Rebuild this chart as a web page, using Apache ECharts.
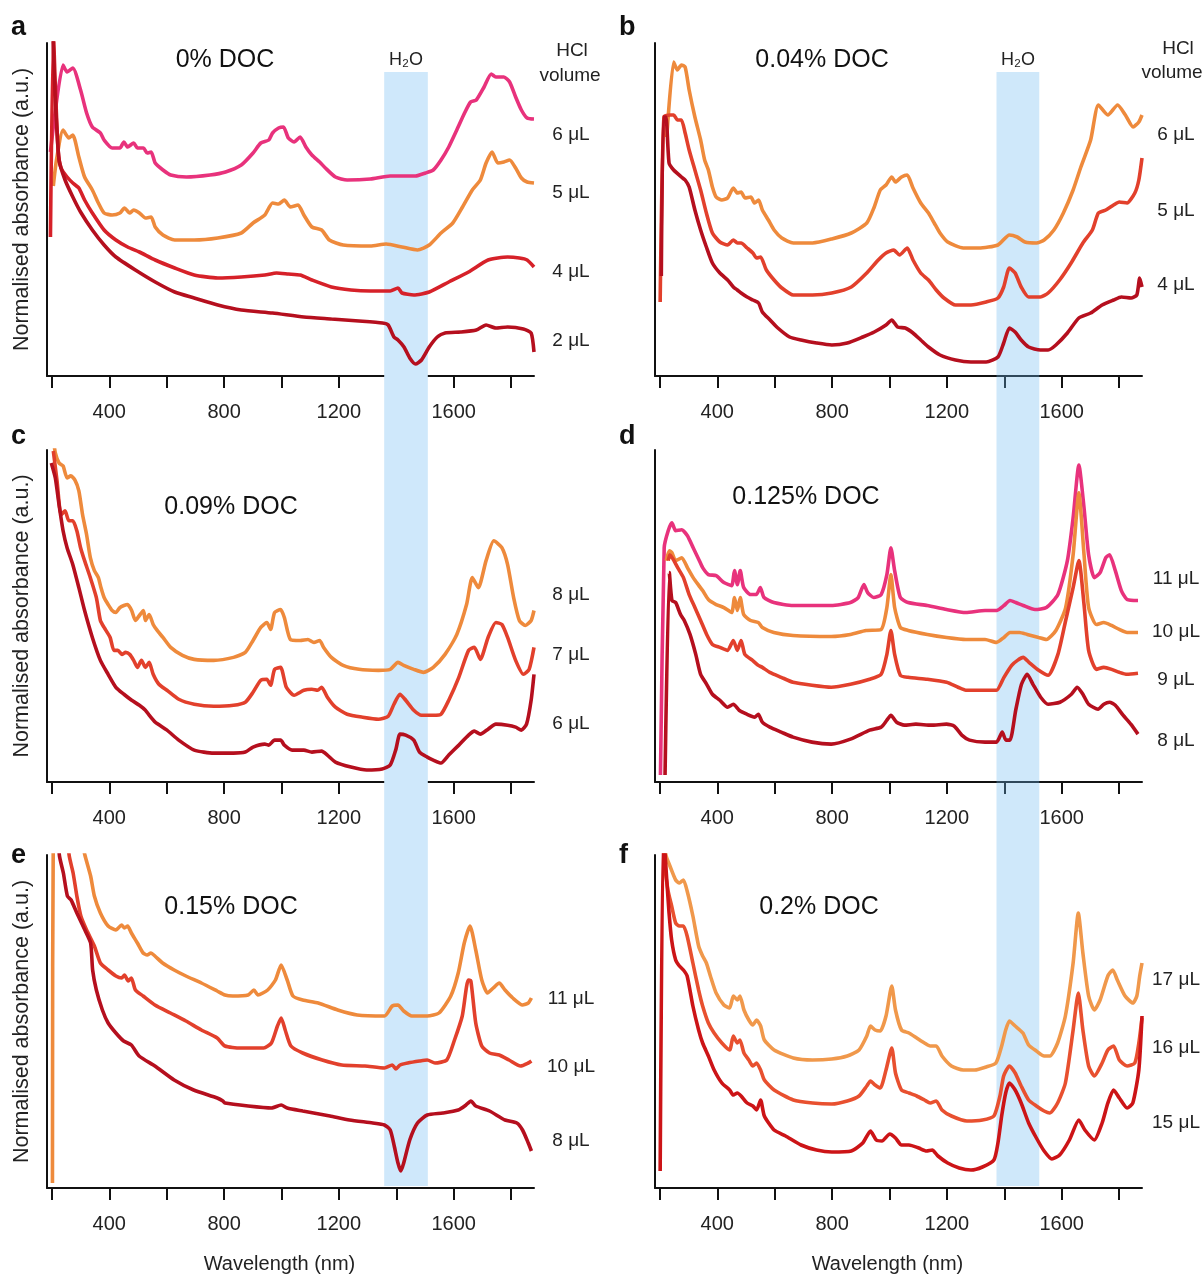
<!DOCTYPE html>
<html><head><meta charset="utf-8">
<script src="https://cdn.jsdelivr.net/npm/echarts@6/dist/echarts.min.js"></script>
<style>html,body{margin:0;padding:0;background:#fff}#chart{width:1204px;height:1274px}</style>
</head><body><div id="chart"></div>
<script>
// ---------------- DATA (wavelength nm, normalised absorbance a.u.) ----------------
const WL_MIN = 183, WL_MAX = 1880;
const TICK_VALUES = [200,400,600,800,1000,1200,1400,1600,1800];
const LABEL_VALUES = [400,800,1200,1600];
const H2O_BAND_LEFT = [1358,1510];
const H2O_BAND_RIGHT = [1373,1522];

const docTitles = ['0% DOC','0.04% DOC','0.09% DOC','0.125% DOC','0.15% DOC','0.2% DOC'];
const panelLetters = ['a','b','c','d','e','f'];
const labelsA = ['6 μL','5 μL','4 μL','2 μL'];
const labelsB = ['6 μL','5 μL','4 μL'];
const labelsC = ['8 μL','7 μL','6 μL'];
const labelsD = ['11 μL','10 μL','9 μL','8 μL'];
const labelsE = ['11 μL','10 μL','8 μL'];
const labelsF = ['17 μL','16 μL','15 μL'];

const a_6uL = [[195,224],[239,311],[253,304],[273,308],[300,286],[321,263],[341,249],[369,243],[382,236],[410,228],[437,228],[451,234],[464,229],[485,233],[498,228],[519,228],[532,223],[546,224],[560,213],[587,206],[614,201],[669,199],[751,201],[805,204],[860,211],[901,223],[928,233],[956,236],[969,243],[990,248],[1007,249],[1024,238],[1044,234],[1065,239],[1085,229],[1106,221],[1133,214],[1153,208],[1188,199],[1229,196],[1310,197],[1379,200],[1467,200],[1502,203],[1529,206],[1556,216],[1583,229],[1611,246],[1638,263],[1659,274],[1679,276],[1706,289],[1731,302],[1747,299],[1775,299],[1795,294],[1816,279],[1836,266],[1856,258],[1880,257]];
const a_5uL = [[205,190],[216,216],[239,246],[259,238],[273,241],[294,219],[314,199],[341,186],[362,173],[382,163],[410,161],[437,163],[453,168],[471,163],[485,166],[505,163],[526,158],[546,159],[560,149],[587,141],[628,136],[696,136],[778,138],[860,143],[901,153],[942,161],[969,173],[990,172],[1010,176],[1031,169],[1058,171],[1078,161],[1106,149],[1140,146],[1167,136],[1215,131],[1310,130],[1365,132],[1420,129],[1474,126],[1515,131],[1556,143],[1597,153],[1631,169],[1665,186],[1693,196],[1713,213],[1734,224],[1754,213],[1775,214],[1795,216],[1816,208],[1836,198],[1856,194],[1880,193]];
const a_4uL = [[195,139],[205,345],[212,290],[222,225],[232,208],[253,199],[273,193],[294,188],[314,176],[341,163],[382,146],[423,136],[464,129],[505,124],[560,116],[628,108],[696,101],[778,98],[860,99],[942,101],[983,103],[1024,102],[1065,101],[1106,96],[1174,89],[1242,86],[1310,85],[1379,85],[1406,88],[1420,83],[1461,81],[1515,84],[1583,94],[1652,104],[1720,116],[1788,119],[1829,118],[1856,116],[1880,109]];
const a_2uL = [[203,345],[212,276],[225,216],[246,196],[273,179],[300,164],[341,146],[382,131],[423,119],[491,106],[560,94],[628,84],[696,78],[778,71],[860,66],[969,63],[1078,59],[1174,57],[1270,55],[1352,53],[1372,51],[1392,39],[1406,36],[1427,29],[1447,18],[1467,12],[1488,16],[1515,29],[1543,39],[1570,43],[1624,44],[1679,46],[1713,51],[1747,48],[1788,49],[1843,47],[1870,43],[1880,24]];

const b_6uL = [[224,239],[248,314],[261,306],[275,311],[288,309],[302,286],[322,259],[342,236],[356,216],[369,206],[383,189],[396,179],[416,176],[436,178],[456,188],[470,183],[483,184],[497,178],[517,179],[530,173],[544,176],[557,166],[578,156],[598,146],[625,138],[665,133],[732,133],[799,137],[867,143],[921,153],[947,169],[968,186],[988,191],[1008,199],[1021,194],[1042,199],[1062,201],[1082,188],[1109,173],[1136,163],[1156,153],[1176,143],[1203,134],[1257,128],[1311,128],[1378,131],[1418,141],[1445,139],[1472,134],[1512,133],[1539,136],[1573,146],[1606,163],[1640,186],[1667,209],[1701,236],[1728,271],[1761,261],[1795,271],[1822,261],[1849,249],[1869,254],[1880,261]];
const b_5uL = [[201,74],[214,259],[235,261],[248,261],[261,256],[275,256],[288,243],[302,226],[322,206],[342,186],[362,163],[383,143],[409,134],[436,131],[456,136],[470,133],[483,133],[504,128],[524,123],[537,118],[551,119],[571,106],[598,96],[625,88],[665,81],[732,81],[799,83],[867,89],[921,103],[961,116],[988,123],[1015,126],[1035,121],[1062,128],[1082,116],[1109,103],[1136,96],[1163,86],[1190,78],[1230,71],[1284,71],[1337,74],[1378,78],[1398,89],[1418,108],[1438,103],[1459,89],[1485,79],[1526,79],[1553,83],[1593,96],[1633,113],[1674,133],[1707,146],[1728,163],[1754,166],[1781,171],[1801,174],[1828,173],[1855,183],[1869,196],[1880,218]];
const b_4uL = [[205,100],[212,259],[221,259],[232,213],[248,206],[275,199],[288,196],[302,189],[322,166],[342,146],[362,129],[383,113],[409,103],[436,96],[456,89],[470,86],[483,83],[504,79],[524,76],[544,73],[557,64],[584,56],[611,48],[652,39],[692,36],[746,33],[799,31],[853,33],[907,39],[947,44],[988,51],[1008,56],[1028,49],[1055,48],[1082,43],[1109,36],[1136,29],[1176,21],[1230,16],[1284,14],[1337,14],[1378,19],[1398,33],[1418,48],[1438,44],[1459,36],[1485,29],[1526,26],[1553,26],[1580,31],[1620,43],[1660,58],[1701,63],[1741,71],[1781,76],[1808,79],[1842,78],[1862,81],[1872,98],[1880,89]];

const c_8uL = [[205,345],[212,330],[225,320],[239,317],[253,305],[266,307],[280,303],[294,292],[307,268],[321,248],[334,225],[348,212],[362,205],[371,195],[382,185],[396,178],[410,172],[423,170],[437,175],[451,177],[464,178],[478,172],[491,162],[505,167],[519,172],[526,162],[539,168],[553,158],[567,152],[587,145],[614,135],[655,127],[696,123],[764,122],[833,125],[874,130],[901,142],[928,155],[949,160],[962,153],[976,170],[997,173],[1010,165],[1031,143],[1065,142],[1092,143],[1113,140],[1133,142],[1147,135],[1174,125],[1215,117],[1270,113],[1338,112],[1379,113],[1406,120],[1426,117],[1461,113],[1495,110],[1529,115],[1570,128],[1611,148],[1645,178],[1665,205],[1686,195],[1713,222],[1740,242],[1768,235],[1788,218],[1809,185],[1829,162],[1850,157],[1870,162],[1880,172]];
const c_7uL = [[205,332],[218,302],[232,268],[246,272],[259,262],[273,262],[287,252],[300,235],[314,222],[334,205],[355,185],[369,162],[382,155],[403,145],[416,132],[430,132],[444,128],[457,130],[471,128],[485,122],[498,115],[512,122],[526,115],[539,120],[553,108],[573,98],[601,92],[642,83],[696,78],[764,76],[833,77],[874,80],[901,90],[928,102],[949,103],[962,97],[976,113],[997,115],[1017,95],[1044,87],[1078,92],[1106,93],[1126,92],[1140,95],[1160,85],[1188,75],[1229,68],[1283,65],[1338,63],[1372,66],[1392,78],[1413,88],[1433,82],[1461,72],[1488,67],[1529,67],[1556,68],[1583,82],[1618,105],[1652,132],[1672,135],[1693,123],[1720,145],[1747,160],[1768,158],[1788,145],[1816,122],[1843,108],[1863,113],[1880,135]];
const c_6uL = [[198,320],[212,305],[225,278],[239,252],[253,235],[273,218],[294,195],[314,172],[341,145],[369,122],[396,108],[423,95],[451,88],[478,82],[505,77],[526,72],[539,67],[560,60],[601,52],[642,42],[696,32],[764,29],[833,29],[874,30],[901,35],[942,38],[956,37],[976,42],[997,42],[1010,37],[1037,32],[1078,32],[1106,30],[1140,31],[1160,27],[1188,20],[1242,15],[1297,12],[1351,13],[1379,17],[1399,33],[1413,48],[1433,47],[1461,42],[1481,30],[1508,25],[1529,22],[1556,19],[1583,27],[1618,37],[1652,47],[1672,51],[1693,48],[1720,53],[1747,58],[1788,57],[1816,55],[1836,52],[1854,58],[1870,82],[1880,108]];

const d_11uL = [[202,7],[215,235],[229,252],[242,260],[255,252],[276,253],[296,247],[316,235],[336,223],[349,215],[369,208],[396,207],[423,200],[450,197],[460,212],[470,198],[480,212],[492,195],[516,188],[536,188],[550,195],[563,185],[597,180],[664,177],[797,177],[864,180],[891,185],[911,198],[924,190],[945,185],[971,188],[991,208],[1005,235],[1018,212],[1038,185],[1065,180],[1132,177],[1199,173],[1266,170],[1333,172],[1373,172],[1399,177],[1420,182],[1440,180],[1466,177],[1507,173],[1547,175],[1587,188],[1620,222],[1640,265],[1660,318],[1678,275],[1694,228],[1714,205],[1734,210],[1754,225],[1767,228],[1787,212],[1808,192],[1828,183],[1866,182]];
const d_10uL = [[222,222],[233,232],[242,230],[255,222],[276,225],[296,215],[316,205],[336,197],[349,192],[369,183],[396,178],[423,175],[450,170],[460,185],[470,172],[480,185],[492,168],[516,162],[543,160],[557,155],[597,150],[664,147],[797,146],[864,148],[918,152],[971,153],[991,175],[1005,208],[1018,175],[1038,155],[1065,152],[1132,148],[1199,145],[1266,143],[1333,143],[1373,140],[1399,145],[1420,150],[1453,150],[1480,148],[1520,145],[1547,143],[1580,152],[1614,175],[1640,228],[1660,290],[1678,228],[1694,175],[1721,158],[1747,160],[1774,157],[1801,153],[1828,150],[1866,150]];
const d_9uL = [[229,222],[235,228],[249,222],[262,215],[282,205],[302,188],[322,175],[342,162],[363,148],[383,138],[409,135],[436,132],[456,142],[470,132],[483,142],[496,128],[523,122],[543,117],[557,115],[583,110],[623,105],[664,100],[730,97],[797,95],[864,98],[931,103],[971,108],[991,128],[1005,152],[1018,128],[1038,107],[1065,105],[1132,103],[1199,100],[1239,95],[1266,92],[1333,92],[1373,92],[1399,105],[1426,117],[1446,122],[1466,125],[1486,120],[1520,112],[1553,107],[1587,128],[1614,162],[1640,195],[1660,222],[1678,178],[1694,132],[1721,113],[1747,115],[1774,113],[1801,110],[1828,108],[1866,109]];
const d_8uL = [[218,7],[233,210],[242,182],[255,180],[272,168],[285,162],[305,148],[325,128],[342,108],[363,98],[383,88],[409,82],[436,75],[456,78],[476,72],[503,68],[530,65],[543,68],[557,60],[583,55],[623,50],[664,45],[730,40],[797,38],[864,43],[931,52],[971,55],[991,62],[1005,67],[1025,60],[1052,57],[1092,58],[1145,57],[1199,58],[1226,56],[1252,47],[1279,42],[1333,40],[1373,40],[1393,50],[1406,42],[1420,42],[1440,72],[1460,98],[1480,108],[1500,98],[1527,85],[1553,78],[1594,80],[1634,88],[1654,95],[1674,88],[1694,78],[1727,73],[1747,78],[1767,80],[1787,77],[1814,67],[1841,58],[1866,48]];

const e_11uL = [[202,5],[206,420],[260,520],[295,360],[315,333],[335,312],[348,292],[369,275],[396,262],[423,258],[443,263],[453,260],[464,262],[477,255],[498,245],[518,235],[532,233],[545,235],[559,232],[586,225],[626,218],[667,212],[721,205],[776,197],[803,193],[830,192],[884,193],[904,198],[918,193],[952,198],[979,208],[999,223],[1020,208],[1040,192],[1074,188],[1128,185],[1196,178],[1264,173],[1359,172],[1386,182],[1406,183],[1426,177],[1454,172],[1508,172],[1549,175],[1590,192],[1616,215],[1637,245],[1657,262],[1677,238],[1698,208],[1718,195],[1738,200],[1759,205],[1779,198],[1806,190],[1840,183],[1860,185],[1871,190]];
const e_10uL = [[240,400],[260,333],[274,315],[287,292],[301,272],[321,258],[348,242],[369,225],[396,218],[423,212],[443,210],[453,213],[466,207],[477,210],[491,198],[518,192],[559,183],[613,175],[667,167],[721,158],[776,150],[803,142],[857,140],[938,140],[965,145],[986,162],[999,170],[1013,158],[1033,142],[1074,135],[1142,128],[1210,123],[1291,122],[1359,120],[1386,123],[1399,119],[1413,123],[1440,125],[1481,127],[1508,128],[1535,125],[1576,128],[1603,148],[1630,172],[1651,208],[1660,207],[1677,165],[1698,142],[1725,135],[1759,133],[1793,128],[1833,122],[1860,125],[1871,127]];
const e_8uL = [[215,400],[226,333],[240,315],[254,292],[267,288],[287,275],[315,258],[335,245],[342,218],[355,198],[376,178],[396,165],[423,155],[450,147],[477,143],[504,132],[559,122],[626,108],[694,98],[776,90],[796,87],[803,85],[884,82],[965,80],[999,83],[1020,80],[1074,77],[1169,72],[1237,68],[1318,65],[1359,63],[1379,58],[1393,42],[1406,25],[1416,17],[1426,25],[1447,48],[1474,65],[1508,73],[1562,75],[1616,78],[1643,83],[1660,87],[1677,82],[1725,77],[1779,68],[1820,65],[1840,58],[1860,45],[1871,37]];

const f_17uL = [[210,380],[221,333],[235,322],[255,308],[268,305],[282,308],[295,297],[315,272],[335,242],[349,232],[362,225],[376,212],[396,195],[423,183],[443,180],[456,192],[470,188],[479,192],[493,178],[510,168],[524,163],[537,168],[551,162],[564,148],[598,138],[665,130],[732,128],[799,129],[853,132],[894,138],[921,152],[934,162],[950,158],[968,157],[988,172],[1008,202],[1021,178],[1042,158],[1068,155],[1095,150],[1122,145],[1142,142],[1163,142],[1183,132],[1216,122],[1257,118],[1297,118],[1337,121],[1371,125],[1391,142],[1405,158],[1418,167],[1438,162],[1465,155],[1485,143],[1512,137],[1539,132],[1559,132],[1586,145],[1613,172],[1640,225],[1658,275],[1674,235],[1694,192],[1714,178],[1734,188],[1761,212],[1778,218],[1794,208],[1821,192],[1848,185],[1862,192],[1872,212],[1880,225]];
const f_16uL = [[205,400],[214,332],[228,298],[241,282],[255,265],[268,262],[282,262],[295,252],[315,225],[335,198],[349,182],[369,165],[389,155],[416,145],[443,138],[456,152],[470,145],[479,148],[493,135],[510,128],[524,122],[537,125],[551,118],[564,108],[598,98],[665,88],[732,85],[799,84],[853,87],[894,92],[921,102],[934,107],[950,103],[968,100],[988,118],[1008,140],[1021,115],[1042,98],[1068,95],[1095,92],[1122,88],[1142,85],[1163,87],[1183,78],[1216,72],[1270,67],[1324,68],[1364,72],[1385,92],[1398,112],[1418,122],[1438,115],[1459,102],[1485,88],[1512,82],[1539,77],[1559,75],[1586,85],[1613,105],[1640,158],[1658,195],[1674,158],[1694,122],[1714,112],[1741,125],[1761,138],[1781,142],[1801,128],[1828,122],[1855,125],[1869,145],[1880,170]];
const f_15uL = [[201,17],[212,360],[224,308],[232,275],[241,248],[255,228],[268,222],[282,218],[295,212],[315,182],[335,158],[349,145],[369,132],[389,118],[416,105],[443,98],[456,93],[470,95],[483,92],[504,85],[524,82],[537,78],[551,88],[564,72],[598,58],[638,52],[692,43],[746,38],[799,36],[867,37],[907,45],[934,57],[954,48],[974,47],[1001,54],[1021,50],[1042,43],[1068,43],[1102,40],[1129,37],[1149,38],[1169,32],[1203,25],[1243,20],[1284,18],[1324,21],[1364,28],[1378,45],[1391,72],[1405,95],[1418,105],[1438,98],[1459,85],[1485,65],[1512,50],[1539,37],[1566,29],[1593,33],[1627,48],[1660,68],[1681,58],[1714,48],[1741,65],[1761,85],[1781,98],[1801,90],[1828,80],[1848,85],[1869,118],[1880,172]];

// ---------------- STYLE / LAYOUT ----------------
const FONT = '"Liberation Sans", Arial, Helvetica, sans-serif';
const PINK = '#e8327c', ORANGE = '#ee8a3c', REDOR = '#e2402c', RED = '#d62129', DARK = '#b50f1e';
const LORANGE = '#f0984b', REDOR2 = '#e8502f', RED2 = '#cc1417';

const panels = [
  {series:[a_6uL,a_5uL,a_4uL,a_2uL], colors:[PINK,ORANGE,RED,DARK], labels:labelsA, labelY:[135,193,272,341]},
  {series:[b_6uL,b_5uL,b_4uL], colors:[ORANGE,REDOR,DARK], labels:labelsB, labelY:[135,211,285]},
  {series:[c_8uL,c_7uL,c_6uL], colors:[ORANGE,REDOR,DARK], labels:labelsC, labelY:[595,655,724]},
  {series:[d_11uL,d_10uL,d_9uL,d_8uL], colors:[PINK,ORANGE,REDOR,DARK], labels:labelsD, labelY:[579,632,680,741]},
  {series:[e_11uL,e_10uL,e_8uL], colors:[ORANGE,REDOR,DARK], labels:labelsE, labelY:[999,1067,1141]},
  {series:[f_17uL,f_16uL,f_15uL], colors:[LORANGE,REDOR2,RED2], labels:labelsF, labelY:[980,1048,1123]}
];
const GRID_L = [47, 655], GRID_T = [43, 450, 855], GRID_H = [333, 332, 333], GRID_W = 487;
const TITLE_POS = [[225,60],[822,60],[231,507],[806,497],[231,907],[819,907]];
const LETTER_Y = [28, 437, 856];
const LABEL_X = [571, 1176];

const grid = [], xAxis = [], yAxis = [], series = [], graphic = [];
const axisColor = '#111';

panels.forEach((p, i) => {
  const col = i % 2, row = Math.floor(i / 2);
  grid.push({left: GRID_L[col], top: GRID_T[row], width: GRID_W, height: GRID_H[row], outerBoundsMode: 'none'});
  xAxis.push({
    gridIndex: i, type: 'value', min: WL_MIN, max: WL_MAX,
    axisLine: {show: true, onZero: false, lineStyle: {color: axisColor, width: 2}},
    axisTick: {show: true, customValues: TICK_VALUES, length: 12, lineStyle: {color: axisColor, width: 2}},
    axisLabel: {show: true, customValues: LABEL_VALUES, fontSize: 20, color: '#222', margin: 26, fontFamily: FONT,
      formatter: v => String(v)},
    splitLine: {show: false},
    name: row === 2 ? 'Wavelength (nm)' : '', nameLocation: 'middle', nameGap: 66,
    nameTextStyle: {fontSize: 20, color: '#222', fontFamily: FONT, padding: [0, 22, 0, 0]}
  });
  yAxis.push({
    gridIndex: i, type: 'value', min: 0, max: 333,
    axisLine: {show: true, onZero: false, lineStyle: {color: axisColor, width: 2}},
    axisTick: {show: false}, axisLabel: {show: false}, splitLine: {show: false},
    name: col === 0 ? 'Normalised absorbance (a.u.)' : '', nameLocation: 'middle', nameGap: 14, nameRotate: 90,
    nameTextStyle: {fontSize: 21.5, color: '#222', fontFamily: FONT}
  });
  p.series.forEach((d, k) => {
    series.push({
      type: 'line', xAxisIndex: i, yAxisIndex: i, data: d, symbol: 'none', smooth: 0.2,
      lineStyle: {color: p.colors[k], width: 3.6}, z: 3, silent: true, clip: true
    });
  });
  const [tx, ty] = TITLE_POS[i];
  graphic.push({type: 'text', x: tx, y: ty, silent: true,
    style: {text: docTitles[i], font: '25px ' + FONT, fill: '#111', align: 'center', verticalAlign: 'middle'}});
  graphic.push({type: 'text', x: col === 0 ? 11 : 619, y: LETTER_Y[row], silent: true,
    style: {text: panelLetters[i], font: 'bold 27px ' + FONT, fill: '#111', align: 'left', verticalAlign: 'middle'}});
  p.labels.forEach((t, k) => {
    graphic.push({type: 'text', x: LABEL_X[col], y: p.labelY[k], silent: true,
      style: {text: t, font: '19px ' + FONT, fill: '#222', align: 'center', verticalAlign: 'middle'}});
  });
});

// HCl volume headers
graphic.push({type:'text', x:572, y:51, silent:true, style:{text:'HCl', font:'19px '+FONT, fill:'#222', align:'center', verticalAlign:'middle'}});
graphic.push({type:'text', x:570, y:76, silent:true, style:{text:'volume', font:'19px '+FONT, fill:'#222', align:'center', verticalAlign:'middle'}});
graphic.push({type:'text', x:1178, y:49, silent:true, style:{text:'HCl', font:'19px '+FONT, fill:'#222', align:'center', verticalAlign:'middle'}});
graphic.push({type:'text', x:1172, y:73, silent:true, style:{text:'volume', font:'19px '+FONT, fill:'#222', align:'center', verticalAlign:'middle'}});

// H2O bands: one tall grid per column so the band runs through all three panels
[[H2O_BAND_LEFT, '#cfe8fb', 1], [H2O_BAND_RIGHT, 'rgba(110,185,240,0.33)', 10]].forEach(([band, color, z], col) => {
  const gi = grid.length;
  grid.push({left: GRID_L[col], top: 72, width: GRID_W, height: 1114, outerBoundsMode: 'none'});
  xAxis.push({gridIndex: gi, type: 'value', min: WL_MIN, max: WL_MAX, show: false});
  yAxis.push({gridIndex: gi, type: 'value', min: 0, max: 1, show: false});
  series.push({
    type: 'line', xAxisIndex: gi, yAxisIndex: gi, data: [], symbol: 'none', z: z, silent: true,
    markArea: {
      silent: true, itemStyle: {color: color},
      label: {show: true, position: 'top', distance: 3, formatter: 'H₂O', fontSize: 18, color: '#222', fontFamily: FONT},
      data: [[{xAxis: band[0]}, {xAxis: band[1]}]]
    }
  });
});

const chart = echarts.init(document.getElementById('chart'), null, {renderer: 'canvas'});
chart.setOption({
  animation: false, backgroundColor: '#fff',
  textStyle: {fontFamily: FONT},
  grid, xAxis, yAxis, series, graphic
});
</script></body></html>
